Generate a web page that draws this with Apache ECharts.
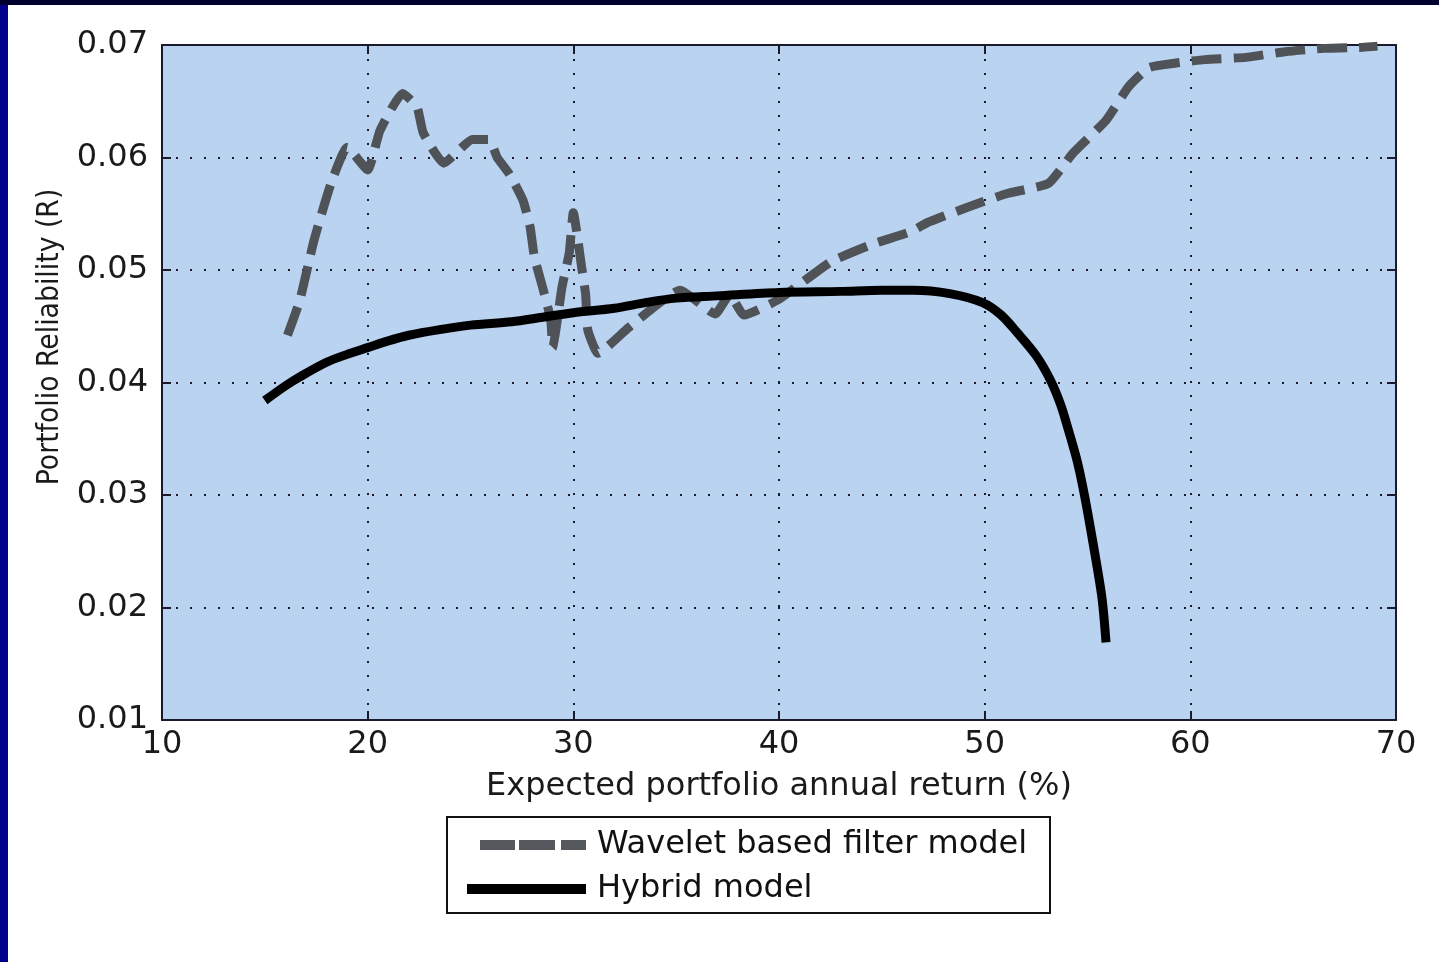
<!DOCTYPE html>
<html>
<head>
<meta charset="utf-8">
<script src="https://cdn.jsdelivr.net/npm/echarts@6/dist/echarts.min.js"></script>
<style>
html,body{margin:0;padding:0;background:#ffffff;}
#chart{position:absolute;left:0;top:0;width:1439px;height:962px;}
#bl{position:absolute;left:0;top:0;width:8px;height:962px;background:#00008c;}
#bt{position:absolute;left:0;top:0;width:1439px;height:5px;background:#00002e;}
</style>
</head>
<body>
<div id="chart"></div>
<div id="bl"></div>
<div id="bt"></div>
<script>
// ---- data ----
var seriesNames = ['Wavelet based filter model', 'Hybrid model'];
var xTicks = [10, 20, 30, 40, 50, 60, 70];
var yTicks = [0.01, 0.02, 0.03, 0.04, 0.05, 0.06, 0.07];
var waveletData = [
  [16.1,0.0442],[16.7,0.0473],[17.4,0.0527],[18.2,0.0576],[19.0,0.0609],[20.0,0.0589],
  [20.6,0.0624],[21.7,0.0657],[22.4,0.0645],[22.7,0.0622],[23.7,0.0595],[25.1,0.0616],
  [25.9,0.0616],[26.3,0.0600],[26.9,0.0585],[27.55,0.0562],[27.9,0.0538],[28.1,0.0512],
  [28.5,0.0485],[28.9,0.0456],[29.0,0.0431],[29.45,0.0485],[29.8,0.0515],[30.0,0.0551],
  [30.4,0.0503],[30.6,0.0478],[30.7,0.0447],[31.2,0.0426],[32.7,0.0449],[35.2,0.0482],
  [36.9,0.0461],[37.6,0.0478],[38.3,0.0460],[40.0,0.0474],[42.5,0.0507],[44.4,0.0522],
  [46.4,0.0534],[47.2,0.0542],[49.2,0.0556],[51.1,0.0568],[53.1,0.0577],[54.3,0.0604],
  [55.9,0.0633],[57.0,0.0663],[58.0,0.0680],[59.3,0.0684],[60.7,0.0687],[62.7,0.0689],
  [64.6,0.0694],[66.5,0.0697],[68.4,0.0698],[69.1,0.0699]
];
var hybridData = [
  [15.0,0.0384],[16.0,0.0397],[16.7,0.0405],[18,0.0418],[19,0.0425],[20,0.0431],[21,0.0437],
  [22,0.0442],[23.5,0.0447],[25,0.0451],[27,0.0454],[28.5,0.0458],[30,0.0462],[32,0.0466],
  [33.5,0.0471],[35,0.0475],[37,0.0477],[40,0.0480],[43,0.0481],[45,0.0482],[46.5,0.0482],
  [48.3,0.0479],[49.9,0.0471],[50.8,0.0460],[51.6,0.0444],[52.5,0.0424],[53.2,0.0402],
  [53.7,0.0380],[54.1,0.0356],[54.5,0.0330],[54.85,0.0300],[55.3,0.0254],[55.7,0.0209],[55.9,0.0169]
];
var xLabel = 'Expected portfolio annual return (%)';
var yLabel = 'Portfolio Reliability (R)';

// ---- chart ----
var FONT = 'DejaVu Sans';
var chart = echarts.init(document.getElementById('chart'), null, {renderer:'canvas'});
var gridLine = {show:true, lineStyle:{color:'#1a1a2a', width:2, type:[2,12]}};
var frameLine = {show:true, lineStyle:{color:'#1a1a2a', width:2}};
var tick = {show:true, inside:true, length:9, lineStyle:{color:'#1a1a2a', width:2}};
var xMin = xTicks[0], xMax = xTicks[xTicks.length-1], xInt = xTicks[1]-xTicks[0];
var yMin = yTicks[0], yMax = yTicks[yTicks.length-1], yInt = 0.01;

chart.setOption({
  animation:false,
  backgroundColor:'#ffffff',
  grid:{left:162, top:45, right:43, bottom:242, show:true, backgroundColor:'#b9d3f1', borderWidth:0},
  xAxis:[{
    type:'value', min:xMin, max:xMax, interval:xInt, position:'bottom',
    axisLine:frameLine, axisTick:tick,
    axisLabel:{color:'#1a1a1a', fontFamily:FONT, fontSize:32, margin:9},
    splitLine:gridLine,
    name:xLabel, nameLocation:'middle', nameGap:51,
    nameTextStyle:{color:'#1a1a1a', fontFamily:FONT, fontSize:32}
  },{
    type:'value', min:xMin, max:xMax, interval:xInt, position:'top',
    axisLine:frameLine, axisTick:tick,
    axisLabel:{show:false}, splitLine:{show:false}
  }],
  yAxis:[{
    type:'value', min:yMin, max:yMax, interval:yInt, position:'left',
    axisLine:frameLine, axisTick:tick,
    axisLabel:{color:'#1a1a1a', fontFamily:FONT, fontSize:32, margin:14,
      formatter:function(v){return v.toFixed(2);}},
    splitLine:gridLine
  },{
    type:'value', min:yMin, max:yMax, interval:yInt, position:'right',
    axisLine:frameLine, axisTick:tick,
    axisLabel:{show:false}, splitLine:{show:false}
  }],
  legend:{
    orient:'vertical', left:467, top:827, itemWidth:119, itemHeight:10, itemGap:8,
    padding:0,
    itemStyle:{borderWidth:0},
    textStyle:{color:'#111', fontFamily:FONT, fontSize:32, lineHeight:36, padding:[0,0,0,6]},
    data:[
      {name:seriesNames[0], icon:'path://M0,0h0.01v0.01h-0.01z M13,0h35v10h-35z M52,0h36v10h-36z M94,0h25v10h-25z'},
      {name:seriesNames[1], icon:'rect'}
    ]
  },
  graphic:[
    {type:'rect', left:446, top:816, shape:{width:603, height:96}, z:-1,
     style:{fill:'#ffffff', stroke:'#111', lineWidth:2}},
    {type:'text', x:50, y:337, rotation:Math.PI/2, scaleX:0.89,
     style:{text:yLabel, fill:'#1a1a1a', font:'30px "DejaVu Sans"', textAlign:'center', textVerticalAlign:'middle'}}
  ],
  series:[
    {name:seriesNames[0], type:'line', data:waveletData, symbol:'none', smooth:0.15,
     lineStyle:{color:'#4f5257', width:9, type:[30,12], cap:'butt'}, itemStyle:{color:'#55585c'}, z:3},
    {name:seriesNames[1], type:'line', data:hybridData, symbol:'none', smooth:0.3,
     lineStyle:{color:'#000000', width:9, cap:'butt'}, itemStyle:{color:'#000000'}, z:4}
  ]
});
</script>
</body>
</html>
